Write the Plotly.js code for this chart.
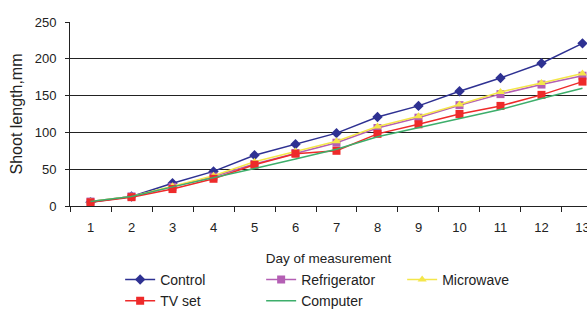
<!DOCTYPE html>
<html>
<head>
<meta charset="utf-8">
<script src="https://cdn.plot.ly/plotly-3.0.1.min.js"></script>
<style>html,body{margin:0;padding:0;background:#fff;}#chart{width:587px;height:309px;}</style>
</head>
<body>
<div id="chart"></div>
<script>
var days = [1,2,3,4,5,6,7,8,9,10,11,12,13];
var control      = [5, 13, 31, 47, 69, 84, 99, 121, 136, 156, 174, 194, 221];
var refrigerator = [6, 13, 26, 40, 57, 72, 86, 106, 120, 137, 152, 165, 177];
var microwave    = [6, 13, 27, 41, 60, 74, 88, 108, 122, 138, 155, 167, 180];
var tvSet        = [5, 12, 23, 37, 56, 71, 75, 98, 111, 125, 136, 151, 169];
var computer     = [6, 13, 26, 38, 51, 64, 77, 94, 106, 119, 131, 146, 160];
var names = ['Control','Refrigerator','Microwave','TV set','Computer'];

var font = '"Liberation Sans", Arial, sans-serif';

function tr(name, y, color, symbol, mode) {
  return {
    x: days, y: y, name: name, type: 'scatter', mode: mode || 'lines+markers',
    line: {color: color, width: 1.5},
    marker: {color: color, symbol: symbol, size: 8}
  };
}
var data = [
  tr(names[0], control, '#2E3192', 'diamond'),
  tr(names[1], refrigerator, '#B45FB4', 'square'),
  tr(names[2], microwave, '#F4E64A', 'triangle-up'),
  tr(names[3], tvSet, '#EE2A2A', 'square'),
  tr(names[4], computer, '#3DAE6B', 'line-ew', 'lines')
];

var layout = {
  width: 587, height: 309,
  margin: {l: 70, r: 0, t: 22, b: 103, autoexpand: false},
  paper_bgcolor: '#fff', plot_bgcolor: '#fff',
  showlegend: true,
  xaxis: {
    range: [0.5, 13.11], automargin: false,
    tickvals: days, ticktext: days.map(String),
    ticks: '', showgrid: false, zeroline: false,
    showline: true, linecolor: '#222', linewidth: 1,
    tickfont: {family: font, size: 13, color: '#222'},
    ticklabelstandoff: 9, ticklabeloverflow: 'allow',
    minor: {tick0: 0.5, dtick: 1, ticks: 'outside', ticklen: 5, tickcolor: '#222', tickwidth: 1, showgrid: false},
    title: {text: 'Day of measurement', font: {family: font, size: 13.5, color: '#222'}, standoff: 19}
  },
  yaxis: {
    range: [0, 250], tickvals: [0,50,100,150,200,250], automargin: false,
    ticks: 'outside', ticklen: 4, tickcolor: '#222',
    showgrid: true, gridcolor: '#222', gridwidth: 1,
    zeroline: false, showline: true, linecolor: '#222', linewidth: 1,
    tickfont: {family: font, size: 13, color: '#222'},
    ticklabelstandoff: 6,
    title: {text: 'Shoot length,mm', font: {family: font, size: 16, color: '#222'}, standoff: 8}
  },
  legend: {
    orientation: 'h', x: 0.097, xanchor: 'left', y: -0.315, yanchor: 'top',
    font: {family: font, size: 14, color: '#222'},
    entrywidth: 96, itemwidth: 30,
    traceorder: 'normal'
  }
};
Plotly.newPlot('chart', data, layout, {displayModeBar: false, staticPlot: true});
</script>
</body>
</html>
